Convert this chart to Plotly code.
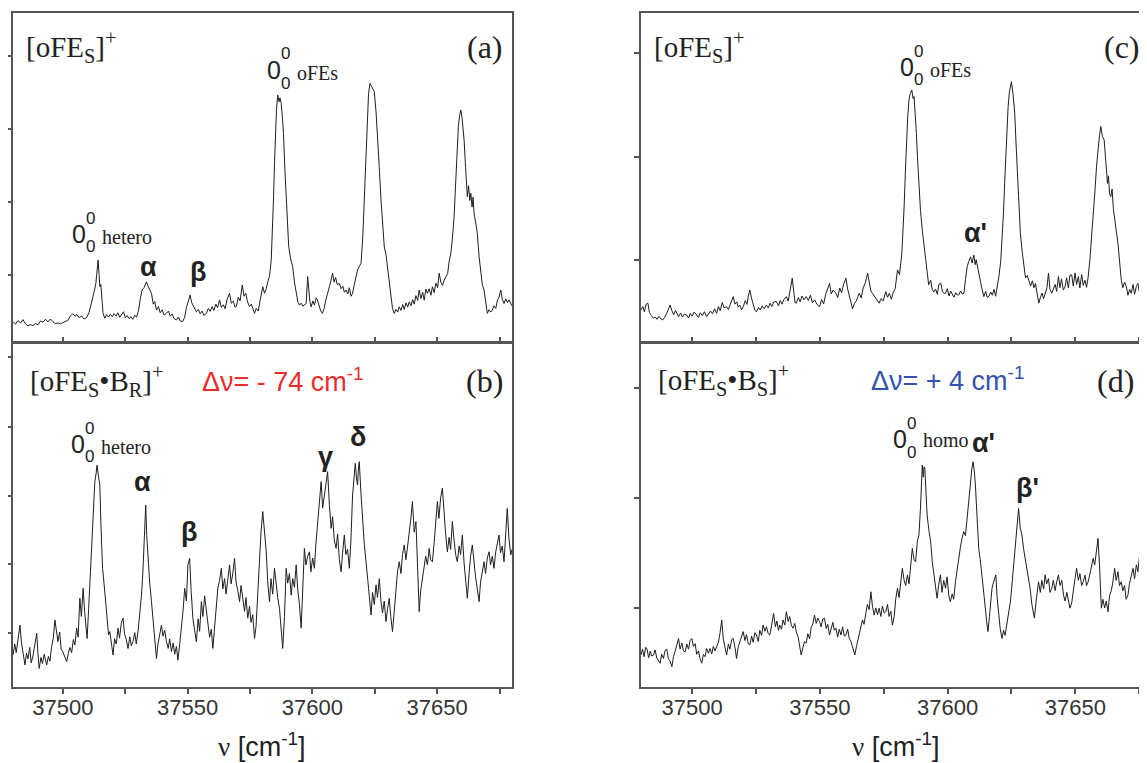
import plotly.graph_objects as go

W, H = 1147, 763

# ---------------- data (intensity in % of frame height) ----------------
nu_a = [37480.0,37481.0,37482.0,37483.0,37484.0,37485.0,37486.0,37487.0,37488.0,37489.0,37490.0,37491.0,37492.0,37493.0,37494.0,37495.0,37496.0,37497.0,37498.0,37499.0,37500.0,37501.0,37502.0,37503.0,37504.0,37505.0,37505.5,37506.5,37507.5,37508.5,37509.5,37510.5,37511.2,37511.9,37512.6,37513.2,37513.7,37514.1,37514.5,37514.8,37515.2,37515.6,37516.1,37516.8,37517.5,37518.3,37519.0,37519.8,37520.5,37521.3,37522.0,37522.8,37523.5,37524.3,37525.0,37525.8,37526.5,37527.3,37528.0,37528.8,37529.5,37530.3,37531.0,37531.7,37532.5,37533.0,37533.5,37534.0,37534.7,37535.5,37536.2,37536.8,37537.5,37538.3,37539.0,37539.8,37540.5,37541.5,37542.3,37543.0,37543.8,37544.5,37545.5,37546.3,37547.0,37548.0,37548.8,37549.5,37550.3,37551.0,37551.6,37552.3,37553.0,37553.5,37554.3,37555.0,37555.8,37556.5,37557.5,37558.3,37559.0,37559.8,37560.5,37561.3,37562.0,37562.8,37563.5,37564.3,37565.0,37565.8,37566.8,37567.5,37568.3,37569.0,37569.5,37570.3,37571.0,37571.9,37572.6,37573.3,37574.0,37574.8,37575.5,37576.2,37576.8,37577.5,37578.3,37579.0,37579.5,37580.1,37580.8,37581.5,37582.2,37582.8,37583.5,37584.0,37584.4,37584.8,37585.2,37585.6,37586.1,37586.6,37587.0,37587.5,37588.0,37588.4,37589.0,37589.5,37590.0,37590.5,37591.3,37592.1,37592.8,37593.5,37594.2,37594.8,37595.5,37596.2,37596.8,37597.5,37598.1,37598.6,37599.0,37599.5,37600.2,37600.8,37601.5,37602.0,37602.7,37603.3,37604.0,37604.7,37605.3,37606.0,37606.8,37607.4,37608.1,37608.7,37609.3,37610.0,37610.8,37611.5,37612.2,37612.8,37613.5,37614.2,37614.8,37615.5,37616.1,37616.8,37617.5,37618.1,37618.8,37619.5,37620.2,37620.8,37621.4,37621.9,37622.5,37623.1,37623.6,37624.2,37624.8,37625.5,37626.1,37626.8,37627.5,37628.2,37628.8,37629.5,37630.1,37630.8,37631.5,37632.1,37632.8,37633.5,37634.2,37634.8,37635.5,37636.2,37636.8,37637.5,37638.2,37638.8,37639.5,37640.2,37640.8,37641.5,37642.2,37642.8,37643.5,37644.2,37644.8,37645.5,37646.1,37646.8,37647.5,37648.1,37648.8,37649.5,37650.2,37650.8,37651.5,37652.2,37652.8,37653.5,37654.2,37654.8,37655.5,37656.1,37656.8,37657.4,37657.9,37658.5,37659.0,37659.5,37660.0,37660.4,37660.8,37661.4,37662.1,37662.6,37663.1,37663.5,37664.0,37664.4,37664.8,37665.4,37666.1,37666.8,37667.5,37668.1,37668.8,37669.4,37670.1,37670.8,37671.5,37672.1,37672.8,37673.5,37674.2,37674.8,37675.5,37676.1,37676.8,37677.5,37678.2,37678.8,37679.5,37680.0]
int_a = [6.2,5.4,6.5,5.8,6.8,5.5,4.9,5.3,5.0,5.6,5.2,6.4,6.0,6.9,6.1,7.0,6.2,5.6,5.8,5.5,5.9,6.3,6.6,7.9,8.6,7.8,8.4,7.4,7.9,7.0,7.4,9.0,11.0,12.8,15.5,17.8,22.0,24.9,20.5,16.8,17.5,12.0,8.7,7.2,8.3,7.6,8.4,7.7,8.6,7.9,8.9,7.5,8.2,9.2,7.4,8.0,7.1,7.7,6.9,8.1,7.6,9.5,13.0,15.8,16.5,17.6,18.3,17.2,16.0,14.8,11.5,12.3,9.7,10.8,8.9,9.8,8.2,8.7,9.4,7.9,8.5,7.2,6.7,7.6,6.4,6.2,7.5,10.5,12.5,14.3,12.0,11.0,10.2,9.2,9.9,8.6,9.4,8.1,8.7,10.2,9.3,10.8,9.6,11.5,10.4,12.8,10.5,11.3,10.1,12.9,14.8,11.8,12.4,10.6,10.8,13.6,12.5,17.3,13.9,14.8,12.2,10.8,11.5,9.8,8.7,10.2,9.4,12.5,14.5,16.8,14.8,16.2,18.5,19.9,24.9,33.0,43.2,54.0,63.4,70.5,75.1,73.0,74.2,72.5,68.0,63.4,52.0,43.2,34.5,29.0,25.2,22.9,18.2,14.8,12.1,11.2,11.8,10.9,11.4,11.7,19.9,13.5,12.2,10.7,12.5,11.2,13.4,12.8,11.0,9.5,8.7,10.2,12.5,14.9,16.8,18.5,20.9,18.2,19.6,17.4,17.8,16.2,17.0,15.1,15.8,14.6,16.5,13.9,14.8,17.5,20.5,21.9,23.0,23.9,32.0,43.2,57.0,68.5,75.5,78.6,77.8,77.0,76.1,70.0,63.4,53.0,43.2,34.0,29.0,26.5,22.9,17.5,12.8,10.2,8.7,9.9,9.1,10.7,9.6,11.4,9.9,11.9,10.6,12.2,11.0,12.9,11.5,14.1,12.6,15.8,13.2,15.1,12.7,16.1,14.8,16.2,14.2,16.8,15.0,17.9,16.5,20.9,18.1,17.2,18.8,19.9,20.8,24.5,27.0,31.5,38.1,48.0,58.4,65.5,68.8,70.5,68.0,64.5,61.4,53.0,44.2,47.5,43.0,45.2,41.0,44.0,39.1,36.5,33.0,26.0,20.9,17.5,15.8,12.0,8.7,9.8,9.1,9.7,11.0,10.2,12.8,13.6,15.8,13.0,11.7,13.1,12.0,12.8,11.5,11.0]

nu_b = [37480.0,37480.7,37481.3,37482.0,37482.8,37483.4,37484.0,37484.8,37485.4,37486.0,37486.7,37487.3,37488.0,37488.8,37489.5,37490.0,37490.5,37491.2,37491.8,37492.5,37493.5,37494.2,37494.8,37495.5,37496.2,37496.8,37497.5,37498.0,37498.7,37499.3,37500.0,37500.8,37501.5,37502.2,37502.8,37503.5,37504.2,37504.8,37505.5,37506.1,37506.8,37507.4,37508.1,37508.7,37509.2,37509.7,37510.3,37510.8,37511.4,37511.9,37512.4,37512.8,37513.3,37513.7,37514.2,37514.8,37515.3,37515.9,37516.5,37517.2,37517.8,37518.3,37518.8,37519.4,37520.1,37520.7,37521.4,37522.1,37522.7,37523.4,37524.1,37524.7,37525.4,37526.1,37526.8,37527.4,37528.1,37528.8,37529.4,37530.1,37530.8,37531.5,37532.0,37532.4,37532.8,37533.2,37533.6,37534.1,37534.8,37535.5,37536.2,37536.8,37537.5,37538.1,37538.8,37539.5,37540.1,37540.8,37541.5,37542.2,37542.8,37543.5,37544.2,37544.8,37545.5,37546.1,37546.8,37547.5,37548.2,37548.8,37549.5,37550.1,37550.8,37551.4,37552.1,37552.8,37553.5,37554.2,37554.8,37555.5,37556.1,37556.8,37557.5,37558.2,37558.8,37559.5,37560.1,37560.8,37561.4,37562.1,37562.8,37563.5,37564.1,37564.8,37565.4,37566.1,37566.8,37567.4,37568.1,37568.8,37569.4,37570.1,37570.8,37571.4,37572.1,37572.8,37573.4,37574.1,37574.8,37575.4,37576.1,37576.8,37577.4,37578.1,37578.8,37579.4,37580.1,37580.8,37581.5,37582.1,37582.8,37583.4,37584.1,37584.8,37585.4,37586.1,37586.8,37587.4,37588.1,37588.8,37589.5,37590.1,37590.8,37591.5,37592.1,37592.8,37593.5,37594.1,37594.8,37595.5,37596.1,37596.8,37597.4,37598.1,37598.8,37599.4,37600.1,37600.8,37601.4,37602.1,37602.8,37603.5,37604.1,37604.8,37605.4,37606.1,37606.8,37607.5,37608.1,37608.8,37609.5,37610.1,37610.8,37611.5,37612.1,37612.8,37613.4,37614.1,37614.8,37615.4,37616.1,37616.7,37617.2,37617.7,37618.1,37618.5,37618.8,37619.4,37620.1,37620.8,37621.5,37622.1,37622.8,37623.5,37624.1,37624.8,37625.5,37626.1,37626.8,37627.5,37628.1,37628.8,37629.5,37630.1,37630.8,37631.4,37632.1,37632.8,37633.5,37634.1,37634.8,37635.5,37636.1,37636.8,37637.5,37638.1,37638.8,37639.4,37640.1,37640.8,37641.5,37642.1,37642.8,37643.4,37644.1,37644.8,37645.4,37646.1,37646.8,37647.4,37648.1,37648.8,37649.4,37650.1,37650.7,37651.4,37652.1,37652.7,37653.4,37654.1,37654.8,37655.4,37656.1,37656.8,37657.4,37658.1,37658.8,37659.4,37660.1,37660.8,37661.4,37662.1,37662.8,37663.4,37664.1,37664.8,37665.4,37666.1,37666.8,37667.4,37668.1,37668.8,37669.4,37670.1,37670.8,37671.4,37672.1,37672.8,37673.4,37674.1,37674.8,37675.4,37676.1,37676.8,37677.4,37678.1,37678.8,37679.5,37680.0]
int_b = [9.3,12.5,10.0,14.2,18.0,12.8,10.5,6.4,9.8,8.2,11.5,7.0,9.0,12.4,15.6,9.8,5.4,8.6,6.8,9.5,6.4,8.9,7.5,11.8,14.5,19.5,15.0,13.2,16.0,11.0,10.2,8.5,7.4,9.8,11.5,10.0,13.8,12.2,17.1,14.5,25.8,20.5,28.7,22.0,18.0,14.1,22.5,29.7,38.0,46.1,52.0,59.7,62.0,64.5,61.5,58.7,46.0,34.5,30.0,24.8,20.5,15.2,16.1,12.2,9.3,14.0,12.5,17.1,14.2,18.6,20.0,15.5,13.8,11.2,14.6,12.0,13.2,15.8,12.5,16.1,20.5,26.7,32.5,39.3,46.0,52.9,44.0,36.4,30.2,24.8,19.5,15.1,8.3,12.5,15.2,18.0,14.8,16.5,13.2,11.2,14.0,10.3,12.8,9.5,11.8,7.8,12.4,17.1,22.5,28.7,25.0,35.5,37.4,28.0,20.0,16.5,13.2,19.8,16.2,24.8,20.5,26.5,22.9,18.0,14.5,16.8,11.2,17.5,22.0,28.7,31.0,34.5,28.5,31.5,27.0,30.5,35.5,30.0,33.0,37.4,30.5,28.0,24.8,29.5,25.5,22.0,26.0,20.0,23.5,18.8,21.0,14.1,17.5,28.0,40.3,45.0,51.0,45.5,39.3,30.5,24.8,31.5,27.0,34.5,30.0,26.0,22.9,18.0,11.2,20.5,34.5,30.2,33.0,26.7,31.5,29.0,35.5,28.5,24.0,17.1,28.5,40.3,35.5,38.0,39.3,33.5,37.5,34.5,41.5,48.1,53.5,59.7,52.0,55.8,58.5,62.6,53.0,46.1,49.5,42.5,40.3,44.5,37.0,33.5,39.0,44.2,38.5,40.0,34.5,42.0,55.8,62.0,65.0,60.5,58.7,64.0,65.5,57.0,48.1,41.5,36.4,30.5,26.5,20.9,27.5,24.0,29.7,26.0,31.5,24.8,21.5,25.0,19.0,22.5,25.8,20.5,16.1,22.0,28.7,33.5,36.4,33.0,38.5,41.3,37.0,40.5,44.2,48.5,53.9,45.0,48.1,34.0,21.9,28.0,31.5,34.5,38.0,35.5,40.3,37.0,36.4,42.0,47.5,53.9,49.0,55.0,57.8,50.5,44.5,39.3,43.5,40.0,48.1,42.5,38.5,36.4,41.0,38.5,44.2,36.0,30.5,25.8,33.0,38.0,41.3,35.5,32.0,28.5,24.8,30.5,33.0,36.4,33.0,37.5,39.3,35.5,38.0,34.5,39.0,41.5,44.2,39.0,41.0,36.4,44.0,51.9,43.0,38.4,40.0]

nu_c = [37480.0,37480.7,37481.3,37482.0,37482.7,37483.3,37484.0,37484.9,37485.6,37486.3,37487.0,37487.8,37488.5,37489.2,37490.0,37490.7,37491.4,37492.1,37492.8,37493.5,37494.2,37494.7,37495.5,37496.2,37497.0,37497.9,37498.6,37499.3,37500.0,37500.8,37501.8,37502.5,37503.2,37504.0,37504.8,37505.7,37506.4,37507.2,37508.0,37508.8,37509.6,37510.3,37511.0,37511.8,37512.5,37513.5,37514.2,37515.0,37515.6,37516.1,37516.8,37517.5,37518.0,37518.7,37519.4,37520.1,37520.8,37521.5,37522.0,37522.6,37523.3,37524.0,37524.6,37525.2,37526.0,37526.7,37527.4,37528.2,37529.1,37529.8,37530.5,37531.2,37532.0,37533.0,37533.8,37534.5,37535.2,37536.0,37536.9,37537.6,37538.4,37539.2,37539.8,37540.3,37540.8,37541.6,37542.3,37543.0,37543.8,37544.7,37545.5,37546.3,37547.1,37548.0,37548.9,37549.9,37550.7,37551.5,37552.3,37553.0,37553.8,37554.5,37555.2,37556.3,37557.0,37557.8,37558.5,37559.3,37560.2,37560.9,37561.6,37562.2,37562.8,37563.5,37564.3,37565.4,37566.2,37567.0,37567.8,37568.7,37569.4,37570.0,37570.6,37571.4,37572.2,37573.2,37574.0,37574.8,37575.8,37576.5,37577.2,37578.0,37578.7,37579.5,37580.4,37581.2,37582.1,37582.6,37583.0,37583.5,37583.9,37584.4,37584.9,37585.4,37586.0,37586.5,37586.9,37587.4,37587.8,37588.3,37588.8,37589.4,37590.1,37590.7,37591.4,37592.0,37592.6,37593.4,37594.0,37594.6,37595.3,37596.0,37596.6,37597.3,37598.0,37598.6,37599.2,37599.9,37600.6,37601.2,37601.8,37602.5,37603.2,37603.8,37604.4,37605.1,37605.8,37606.4,37607.0,37607.7,37608.3,37609.0,37609.6,37610.3,37610.8,37611.2,37611.6,37612.2,37612.9,37613.5,37614.2,37614.9,37615.5,37616.2,37616.9,37617.5,37618.2,37618.8,37619.5,37620.1,37620.8,37621.4,37621.9,37622.4,37622.9,37623.4,37623.7,37624.2,37625.0,37625.6,37626.3,37626.8,37627.4,37628.0,37628.5,37629.2,37629.8,37630.5,37631.2,37631.8,37632.5,37633.2,37633.8,37634.4,37635.0,37635.7,37636.3,37637.0,37637.6,37638.2,37638.9,37639.5,37640.1,37640.8,37641.4,37642.1,37642.7,37643.4,37644.0,37644.6,37645.3,37646.0,37646.6,37647.3,37647.9,37648.6,37649.2,37649.9,37650.5,37651.2,37651.8,37652.5,37653.1,37653.8,37654.4,37655.0,37655.7,37656.3,37657.0,37657.7,37658.3,37659.0,37659.5,37660.0,37660.6,37661.3,37661.9,37662.6,37663.0,37663.4,37663.9,37664.4,37664.9,37665.4,37666.0,37666.7,37667.3,37668.0,37668.6,37669.3,37670.0,37670.6,37671.3,37671.9,37672.6,37673.2,37673.9,37674.5,37675.2,37675.6,37676.3,37677.0,37677.6,37678.3,37679.0,37680.0,37681.0]
int_c = [9.7,10.8,9.2,11.5,11.8,9.0,8.1,7.2,7.6,6.9,7.8,7.0,6.7,7.4,8.6,10.2,11.2,9.5,8.3,9.6,8.1,7.7,8.8,7.6,8.5,8.2,7.3,8.7,7.9,9.1,8.2,7.5,8.9,8.0,9.2,7.7,8.5,9.4,8.6,10.1,8.7,10.8,9.5,12.0,10.4,10.7,9.9,11.6,12.9,13.8,11.5,12.2,10.6,11.2,9.8,10.9,12.6,11.4,14.0,15.8,13.2,11.0,9.6,9.2,10.5,9.7,11.0,10.1,11.2,10.4,11.8,10.8,12.2,12.3,11.0,12.6,11.5,13.0,13.8,12.4,15.5,19.4,15.2,12.0,11.8,13.5,12.2,14.0,12.8,13.8,12.6,14.2,11.9,12.8,11.4,10.7,12.9,11.6,14.5,16.0,17.8,14.6,15.8,14.8,13.5,16.4,15.0,17.5,19.4,16.1,14.0,12.0,10.1,11.6,12.5,14.8,13.4,16.5,18.0,20.9,17.2,15.5,14.8,13.9,12.8,11.8,13.2,12.5,15.3,13.6,14.8,13.0,15.0,16.2,21.9,20.5,27.0,33.0,41.1,52.0,61.4,68.5,73.6,75.5,76.6,74.0,74.6,69.5,63.4,55.0,47.2,40.0,34.0,29.5,25.9,21.0,17.4,18.8,16.0,15.2,16.1,14.5,17.5,17.9,15.4,14.8,14.8,16.2,14.0,15.5,14.8,13.6,15.0,14.3,14.3,15.5,14.6,14.8,19.0,22.9,24.5,25.9,24.0,26.4,23.5,25.0,23.4,20.5,18.3,16.1,13.8,15.4,13.6,13.9,15.2,14.2,16.0,13.9,16.8,19.9,24.5,31.0,39.5,49.2,59.0,67.0,71.5,76.0,79.1,75.5,69.5,60.5,51.3,41.5,33.0,27.5,22.9,19.5,20.2,18.8,17.0,18.6,16.5,17.8,15.2,11.8,13.5,14.9,13.2,14.8,16.5,20.9,16.0,14.8,16.2,17.5,15.4,19.9,16.5,19.2,15.8,16.8,19.5,16.4,20.3,20.4,17.0,21.0,17.5,19.9,16.4,20.5,17.2,18.8,16.6,19.5,24.9,30.5,38.1,46.0,53.3,59.5,63.0,65.5,62.5,61.4,55.0,48.2,50.5,45.0,44.2,46.5,40.5,38.1,34.0,30.0,23.5,18.8,16.5,18.2,16.8,14.2,16.0,14.8,17.5,14.5,16.9,17.8,14.8,12.8,14.5,13.5,15.0,13.8,15.5,14.0,14.6]

nu_d = [37480.0,37480.6,37481.2,37481.8,37482.3,37483.0,37483.6,37484.2,37484.9,37485.5,37486.2,37486.8,37487.5,37488.1,37488.8,37489.4,37490.1,37490.7,37491.4,37492.1,37492.7,37493.4,37494.0,37494.7,37495.3,37496.0,37496.6,37497.3,37497.9,37498.6,37499.2,37499.9,37500.5,37501.2,37501.8,37502.5,37503.1,37503.8,37504.4,37505.1,37505.7,37506.4,37507.0,37507.7,37508.3,37509.0,37509.6,37510.3,37510.9,37511.6,37512.2,37512.9,37513.5,37514.2,37514.8,37515.5,37516.1,37516.8,37517.4,37518.1,37518.7,37519.4,37520.0,37520.7,37521.3,37522.0,37522.6,37523.3,37523.9,37524.6,37525.2,37525.9,37526.5,37527.2,37527.8,37528.5,37529.1,37529.8,37530.4,37531.1,37531.9,37532.6,37533.2,37533.8,37534.3,37535.0,37535.6,37536.3,37536.9,37537.6,37538.2,37538.9,37539.5,37540.2,37540.8,37541.5,37542.1,37542.7,37543.4,37544.0,37544.7,37545.3,37546.0,37546.6,37547.3,37547.9,37548.6,37549.2,37549.9,37550.5,37551.2,37551.8,37552.5,37553.1,37553.8,37554.4,37555.1,37555.7,37556.3,37557.0,37557.6,37558.3,37558.9,37559.6,37560.2,37560.9,37561.5,37562.2,37562.8,37563.7,37564.4,37565.4,37566.0,37566.7,37567.3,37568.0,37568.6,37569.3,37570.0,37570.6,37571.3,37571.9,37572.6,37573.2,37573.9,37574.5,37575.2,37575.8,37576.5,37577.1,37577.8,37578.4,37579.1,37579.7,37580.4,37581.0,37581.7,37582.3,37583.0,37583.6,37584.3,37584.9,37585.6,37586.2,37586.9,37587.5,37588.2,37588.8,37589.4,37589.8,37590.1,37590.5,37590.8,37591.1,37591.6,37592.0,37592.7,37593.4,37594.0,37594.6,37595.3,37595.9,37596.5,37597.2,37597.8,37598.5,37599.2,37599.8,37600.5,37601.1,37601.8,37602.4,37603.1,37603.8,37604.4,37605.0,37605.6,37606.3,37607.0,37607.6,37608.2,37608.9,37609.5,37610.0,37610.5,37610.9,37611.5,37612.2,37612.8,37613.5,37614.1,37614.8,37615.3,37615.8,37616.4,37617.0,37617.4,37618.0,37618.9,37619.4,37620.0,37620.6,37621.3,37621.9,37622.5,37622.9,37623.6,37624.0,37624.6,37625.3,37625.8,37626.2,37626.8,37627.3,37627.8,37628.4,37629.1,37629.8,37630.6,37631.2,37631.7,37632.3,37633.0,37633.5,37634.0,37634.6,37635.2,37635.6,37636.3,37636.9,37637.6,37638.2,37638.8,37639.5,37640.1,37640.8,37641.4,37642.1,37642.7,37643.4,37644.0,37644.7,37645.4,37646.0,37646.7,37647.3,37647.9,37648.6,37649.2,37649.9,37650.5,37651.2,37651.8,37652.5,37653.1,37653.8,37654.4,37655.0,37655.7,37656.3,37657.0,37657.6,37658.3,37658.9,37659.5,37660.2,37660.8,37661.5,37662.1,37662.8,37663.4,37664.1,37664.7,37665.4,37666.0,37666.7,37667.3,37668.0,37668.6,37669.3,37669.9,37670.6,37671.2,37671.9,37672.6,37673.2,37673.9,37674.5,37675.2,37675.8,37676.5,37677.1,37677.8,37678.4,37679.0,37680.0,37681.0]
int_d = [9.3,11.0,8.8,11.5,11.2,8.5,10.4,9.0,9.3,10.8,8.4,7.6,6.9,9.5,8.3,10.6,11.0,8.2,7.5,5.9,8.8,10.5,12.2,14.1,11.0,12.8,10.5,10.2,12.5,11.0,13.5,14.1,11.8,12.6,9.5,10.5,8.2,6.9,9.5,8.8,11.2,9.8,11.2,9.6,11.8,10.5,11.7,13.0,15.5,19.5,14.0,11.5,9.3,12.5,11.0,13.8,14.1,11.5,8.3,11.8,13.2,14.5,16.1,13.5,15.2,12.5,12.2,14.8,13.0,15.8,15.1,13.2,16.5,15.0,18.0,16.2,17.5,15.5,15.1,17.8,21.4,17.5,19.2,16.5,18.0,16.8,19.5,18.0,21.9,19.0,20.5,17.8,17.1,18.5,16.0,14.5,12.0,9.3,11.5,13.2,12.8,15.5,14.0,17.2,18.5,20.9,18.5,20.0,19.0,17.5,19.8,20.0,17.0,18.2,15.1,16.5,18.8,16.5,17.1,14.5,16.8,15.1,17.5,14.8,15.1,16.8,14.2,13.2,11.5,9.3,12.0,15.1,16.5,19.5,18.2,21.9,24.0,22.5,27.7,23.5,20.9,23.0,21.0,22.9,20.5,23.5,21.5,21.9,24.0,20.5,22.0,18.0,20.5,25.5,28.7,26.0,31.5,34.5,31.0,29.5,32.6,30.0,35.5,40.3,37.0,36.4,42.5,44.2,52.0,59.0,64.5,61.0,64.0,63.6,56.5,50.0,45.5,42.2,36.5,32.6,28.5,25.8,29.5,32.6,27.5,31.0,28.7,32.0,26.5,24.8,27.0,25.5,30.6,34.5,38.4,40.5,43.0,45.2,44.0,48.1,52.0,58.7,63.5,65.5,62.5,58.7,50.0,40.3,37.0,32.6,27.5,22.9,19.0,16.1,20.5,25.0,28.7,30.5,32.6,26.0,20.9,17.0,14.1,16.5,15.0,17.1,19.5,21.5,24.8,30.5,35.0,39.3,44.5,49.0,51.9,46.5,44.2,40.0,36.4,33.5,30.5,28.7,24.0,21.5,20.0,24.5,27.5,30.6,27.5,31.0,28.5,32.6,30.0,31.5,27.5,28.7,31.0,28.0,30.5,32.6,29.5,31.0,26.7,25.0,27.5,24.5,22.9,24.5,28.5,31.5,34.5,31.0,33.0,29.5,30.6,32.5,29.5,30.5,32.8,35.0,37.4,35.5,39.5,43.2,35.0,22.9,25.5,23.0,25.0,21.9,26.5,28.0,30.5,34.5,31.0,33.5,29.5,30.6,28.0,29.5,25.5,26.7,30.0,32.5,34.5,31.5,35.5,33.5,38.4,36.0,39.5,40.3,41.5,39.0,42.0,41.0,42.5]

x_tick_vals = [37500, 37525, 37550, 37575, 37600, 37625, 37650, 37675]
x_tick_text = ["37500", "", "37550", "", "37600", "", "37650", ""]
y_ticks_left = {"a": [20.4, 42.6, 64.7, 86.9], "b": [15.7, 35.8, 55.5, 75.6, 95.9],
                "c": [24.9, 56.2, 87.8], "d": [23.0, 54.9, 86.9]}
y_ticks_right = {"a": [25.2, 50.2, 75.1], "b": [24.7, 49.7, 74.7, 99.4]}

# ---------------- styling ----------------
FRAME = "#555555"
LINE = "#1e1e1e"
SERIF = "Liberation Serif, Times New Roman, serif"
SANS = "Liberation Sans, Arial, sans-serif"
TXT = "#222222"
PAGE_OFF = 8  # the page body margin shifts the figure by this many pixels


def fx(x):
    return (x - PAGE_OFF) / W


def fy(y):
    return 1 - (y - PAGE_OFF) / H


dom_x_left = [fx(13), fx(512)]
dom_x_right = [fx(641), 1.0]
dom_y_top = [fy(342), fy(13)]
dom_y_bot = [fy(687), fy(343)]

fig = go.Figure()
panels = [("a", nu_a, int_a, "x", "y"), ("b", nu_b, int_b, "x2", "y2"),
          ("c", nu_c, int_c, "x3", "y3"), ("d", nu_d, int_d, "x4", "y4")]
for name, xs, ys, xa, ya in panels:
    fig.add_trace(go.Scatter(x=xs, y=ys, mode="lines", xaxis=xa, yaxis=ya,
                             line=dict(color=LINE, width=1), hoverinfo="skip",
                             showlegend=False))

base_ax = dict(showgrid=False, zeroline=False, linecolor=FRAME, linewidth=1.5,
               tickcolor=FRAME, tickwidth=1.5, ticklen=5)

layout = dict(width=W, height=H, margin=dict(l=0, r=0, t=0, b=0),
              paper_bgcolor="white", plot_bgcolor="white", showlegend=False)

right_range = [37480, 37681.2]
specs = {
    "a": dict(xi="", yi="", xd=dom_x_left, yd=dom_y_top, xr=[37480, 37680], bottom=False, right=True, top_x=5),
    "b": dict(xi="2", yi="2", xd=dom_x_left, yd=dom_y_bot, xr=[37480, 37680], bottom=True, right=True, top_x=6),
    "c": dict(xi="3", yi="3", xd=dom_x_right, yd=dom_y_top, xr=right_range, bottom=False, right=False, top_x=7),
    "d": dict(xi="4", yi="4", xd=dom_x_right, yd=dom_y_bot, xr=right_range, bottom=True, right=False, top_x=8),
}
right_y_index = {"a": 5, "b": 6}

for name, s in specs.items():
    xkey = "xaxis" + s["xi"]
    ykey = "yaxis" + s["yi"]
    xref = "x" + s["xi"]
    yref = "y" + s["yi"]
    layout[xkey] = dict(base_ax, domain=s["xd"], range=s["xr"], anchor=yref,
                        showline=True, mirror=True,
                        ticks="outside" if s["bottom"] else "inside",
                        tickvals=x_tick_vals, ticktext=x_tick_text,
                        showticklabels=s["bottom"], ticklabelstandoff=-5,
                        tickfont=dict(family=SANS, size=22, color="#333333"))
    layout[ykey] = dict(base_ax, domain=s["yd"], range=[0, 100], anchor=xref,
                        showline=True, mirror=s["right"], ticks="outside",
                        tickvals=y_ticks_left[name], showticklabels=False)
    layout["xaxis%d" % s["top_x"]] = dict(base_ax, overlaying=xref, anchor=yref, side="top",
                                          range=s["xr"], showline=False, ticks="inside",
                                          tickvals=x_tick_vals, showticklabels=False)
    if s["right"]:
        k = right_y_index[name]
        layout["yaxis%d" % k] = dict(base_ax, overlaying=yref, anchor=xref, side="right",
                                     range=[0, 100], showline=False, ticks="inside",
                                     tickvals=y_ticks_right[name], showticklabels=False)

fig.update_layout(**layout)


def ann(text, x, y, size, family, color=TXT, xanchor="center", yanchor="middle"):
    fig.add_annotation(text=text, x=fx(x), y=fy(y), xref="paper", yref="paper",
                       showarrow=False, xanchor=xanchor, yanchor=yanchor,
                       font=dict(size=size, family=family, color=color))


def zero_stack(x, y, word, wdy=3):
    ann("0", x, y, 25, SANS)
    ann("0", x + 11, y - 16, 17, SANS)
    ann("0", x + 11, y + 13, 17, SANS)
    ann(word, x + 21, y + wdy, 20, SERIF, xanchor="left")


def greek(text, x, y):
    ann("<b>" + text + "</b>", x, y, 27, SANS)


# panel titles
ann("[oFE<sub>S</sub>]<sup>+</sup>", 24, 47, 29, SERIF, xanchor="left")
ann("(a)", 505, 47, 32, SERIF, xanchor="right")
ann("[oFE<sub>S</sub>•B<sub>R</sub>]<sup>+</sup>", 28, 381, 29, SERIF, xanchor="left")
ann("Δν= - 74 cm<sup>-1</sup>", 200, 380, 27, SANS, color="#ee2b2b", xanchor="left")
ann("(b)", 505, 381, 32, SERIF, xanchor="right")
ann("[oFE<sub>S</sub>]<sup>+</sup>", 652, 47, 29, SERIF, xanchor="left")
ann("(c)", 1142, 47, 32, SERIF, xanchor="right")
ann("[oFE<sub>S</sub>•B<sub>S</sub>]<sup>+</sup>", 656, 380, 29, SERIF, xanchor="left")
ann("Δν= + 4 cm<sup>-1</sup>", 869, 379, 27, SANS, color="#3451ad", xanchor="left")
ann("(d)", 1136, 381, 32, SERIF, xanchor="right")

# peak labels
zero_stack(79, 234, "hetero")
zero_stack(274, 70, "oFEs")
greek("α", 148, 267)
greek("β", 198, 272)

zero_stack(78, 444, "hetero")
greek("α", 142, 482)
greek("β", 189, 532)
greek("γ", 325, 457)
greek("δ", 358, 437)

zero_stack(907, 67, "oFEs")
greek("α'", 976, 233)

zero_stack(900, 439, "homo", wdy=1)
greek("α'", 983, 443)
greek("β'", 1027, 488)

# x axis titles
title = '<span style="font-family:Liberation Serif">ν</span> [cm<sup>-1</sup>]'
ann(title, 262, 745, 27, SANS)
ann(title, 896, 745, 27, SANS)

fig.write_html("out.html")
